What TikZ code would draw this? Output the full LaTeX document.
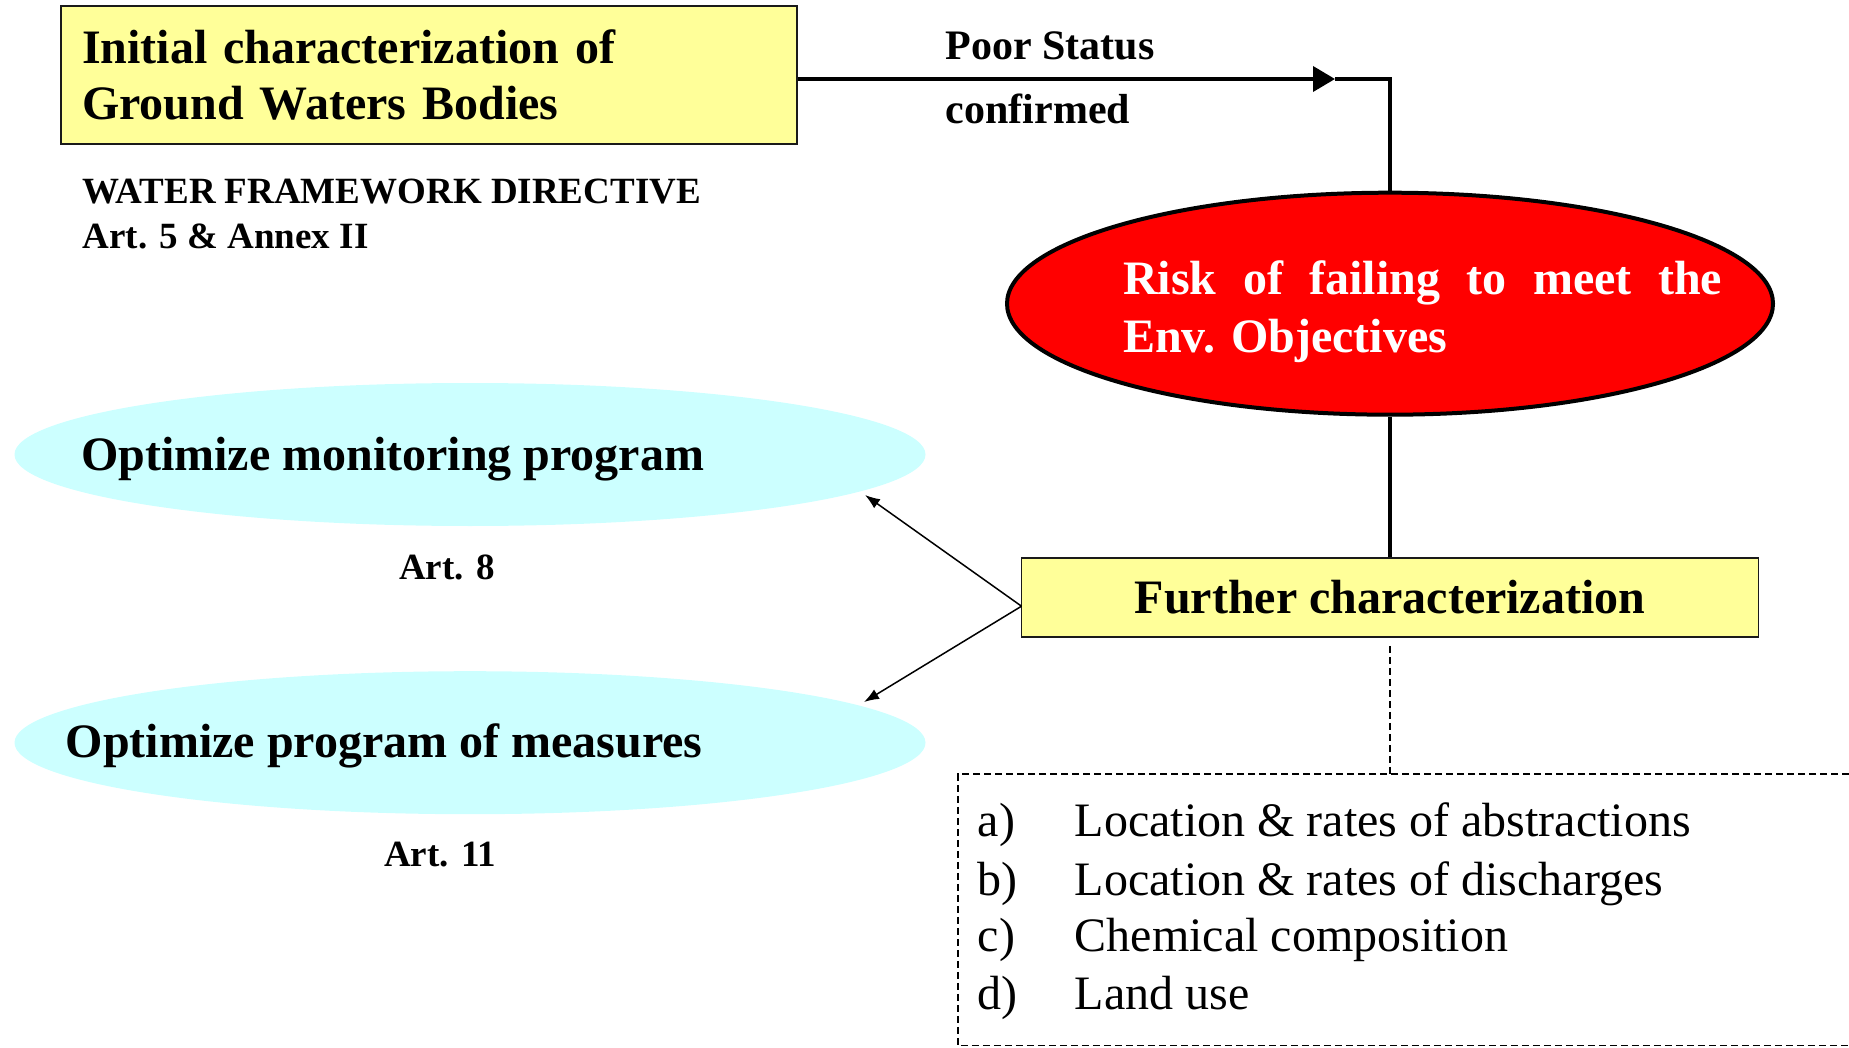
\documentclass[tikz,border=0pt]{standalone}
\usepackage{fontspec}
\setmainfont{Liberation Serif}
\usetikzlibrary{shapes.geometric,arrows.meta}
\definecolor{boxyellow}{HTML}{FFFF99}
\definecolor{skycyan}{HTML}{CCFFFF}
\definecolor{riskred}{HTML}{FF0000}
\definecolor{edgegray}{HTML}{1A1A1A}
\begin{document}
\begin{tikzpicture}[x=1pt,y=-1pt,
  bigbold/.style={font=\bfseries\fontsize{48}{56}\selectfont},
  midbold/.style={font=\bfseries\fontsize{42}{50}\selectfont},
  smallbold/.style={font=\bfseries\fontsize{37}{45}\selectfont},
  listtext/.style={font=\fontsize{48}{56}\selectfont},
  ybox/.style={draw=edgegray, line width=1.8pt, fill=boxyellow},
  cyanell/.style={ellipse, fill=skycyan, minimum width=911pt, minimum height=143pt, inner sep=0pt},
  lbl/.style={inner sep=0pt, anchor=base west},
  mainline/.style={line width=3.8pt},
  thinarrow/.style={line width=1.5pt, -{Latex[length=15pt,width=11pt]}},
  dashline/.style={line width=1.5pt, dash pattern=on 7pt off 4pt}
]
\useasboundingbox (0,0) rectangle (1849,1048);

% boxes and ellipses
\node[ybox, bigbold, minimum width=736pt, minimum height=138pt, text width=694pt,
      align=left, inner xsep=21pt, inner ysep=0pt] (b1) at (429,75)
  {Initial characterization of\\Ground Waters Bodies};

\node[ellipse, draw=black, line width=4pt, fill=riskred, minimum width=766pt,
      minimum height=222pt, inner sep=0pt] (risk) at (1390,303.7) {};
\node[lbl, bigbold, text=white] (r1) at (1123,295) {\makebox[599pt][s]{Risk of failing to meet the}};
\node[lbl, bigbold, text=white] (r2) at (1123,352.7) {Env. Objectives};

\node[ybox, bigbold, minimum width=737pt, minimum height=79pt, inner sep=0pt] (f) at (1390,597.5)
  {Further characterization};

\node[cyanell] (mon) at (470,454.5) {};
\node[lbl, bigbold] (montxt) at (81,470) {Optimize monitoring program};
\node[cyanell] (meas) at (470,742.7) {};
\node[lbl, bigbold] (meastxt) at (65.6,757.7) {Optimize program of measures};

% free labels
\node[lbl, smallbold] (wfd) at (82.6,203.3) {WATER FRAMEWORK DIRECTIVE};
\node[lbl, smallbold] (art5) at (82.6,248.3) {Art. 5 \& Annex II};
\node[inner sep=0pt, anchor=base, smallbold] (art8) at (447,579) {Art. 8};
\node[inner sep=0pt, anchor=base, smallbold] (art11) at (440,866.7) {Art. 11};
\node[lbl, midbold] (poor) at (945.6,60) {Poor Status};
\node[lbl, midbold] (conf) at (945.6,124) {confirmed};

% list
\node[lbl, listtext] (la) at (977.5,836.8) {a)};
\node[lbl, listtext] (lb) at (977.5,895) {b)};
\node[lbl, listtext] (lc) at (977.5,951.5) {c)};
\node[lbl, listtext] (ld) at (977.5,1009.3) {d)};
\node[lbl, listtext] (ia) at (1074.6,836.8) {Location \& rates of abstractions};
\node[lbl, listtext] (ib) at (1074.6,895) {Location \& rates of discharges};
\node[lbl, listtext] (ic) at (1074.6,951.5) {Chemical composition};
\node[lbl, listtext] (id) at (1074.6,1009.3) {Land use};

% connectors
\coordinate (tip) at (1335,79);
\draw[mainline, -{Triangle[length=22pt,width=25pt]}] (b1.east |- tip) -- (tip);
\draw[mainline] (tip) -- (risk.north |- tip) -- (risk.north);
\draw[mainline] (risk.south) -- (f.north);

\coordinate (fork) at (1021.5,606.2);
\coordinate (tm) at (865,495);
\coordinate (tp) at (864,702);
\draw[thinarrow] (fork) -- (tm);
\draw[thinarrow] (fork) -- (tp);

\coordinate (listtop) at (1390,774);
\draw[dashline] ([yshift=-8pt]f.south) -- (listtop);
\draw[dashline] (1849,774) -| (957.8,1045.7) -- (1849,1045.7);
\end{tikzpicture}
\end{document}
